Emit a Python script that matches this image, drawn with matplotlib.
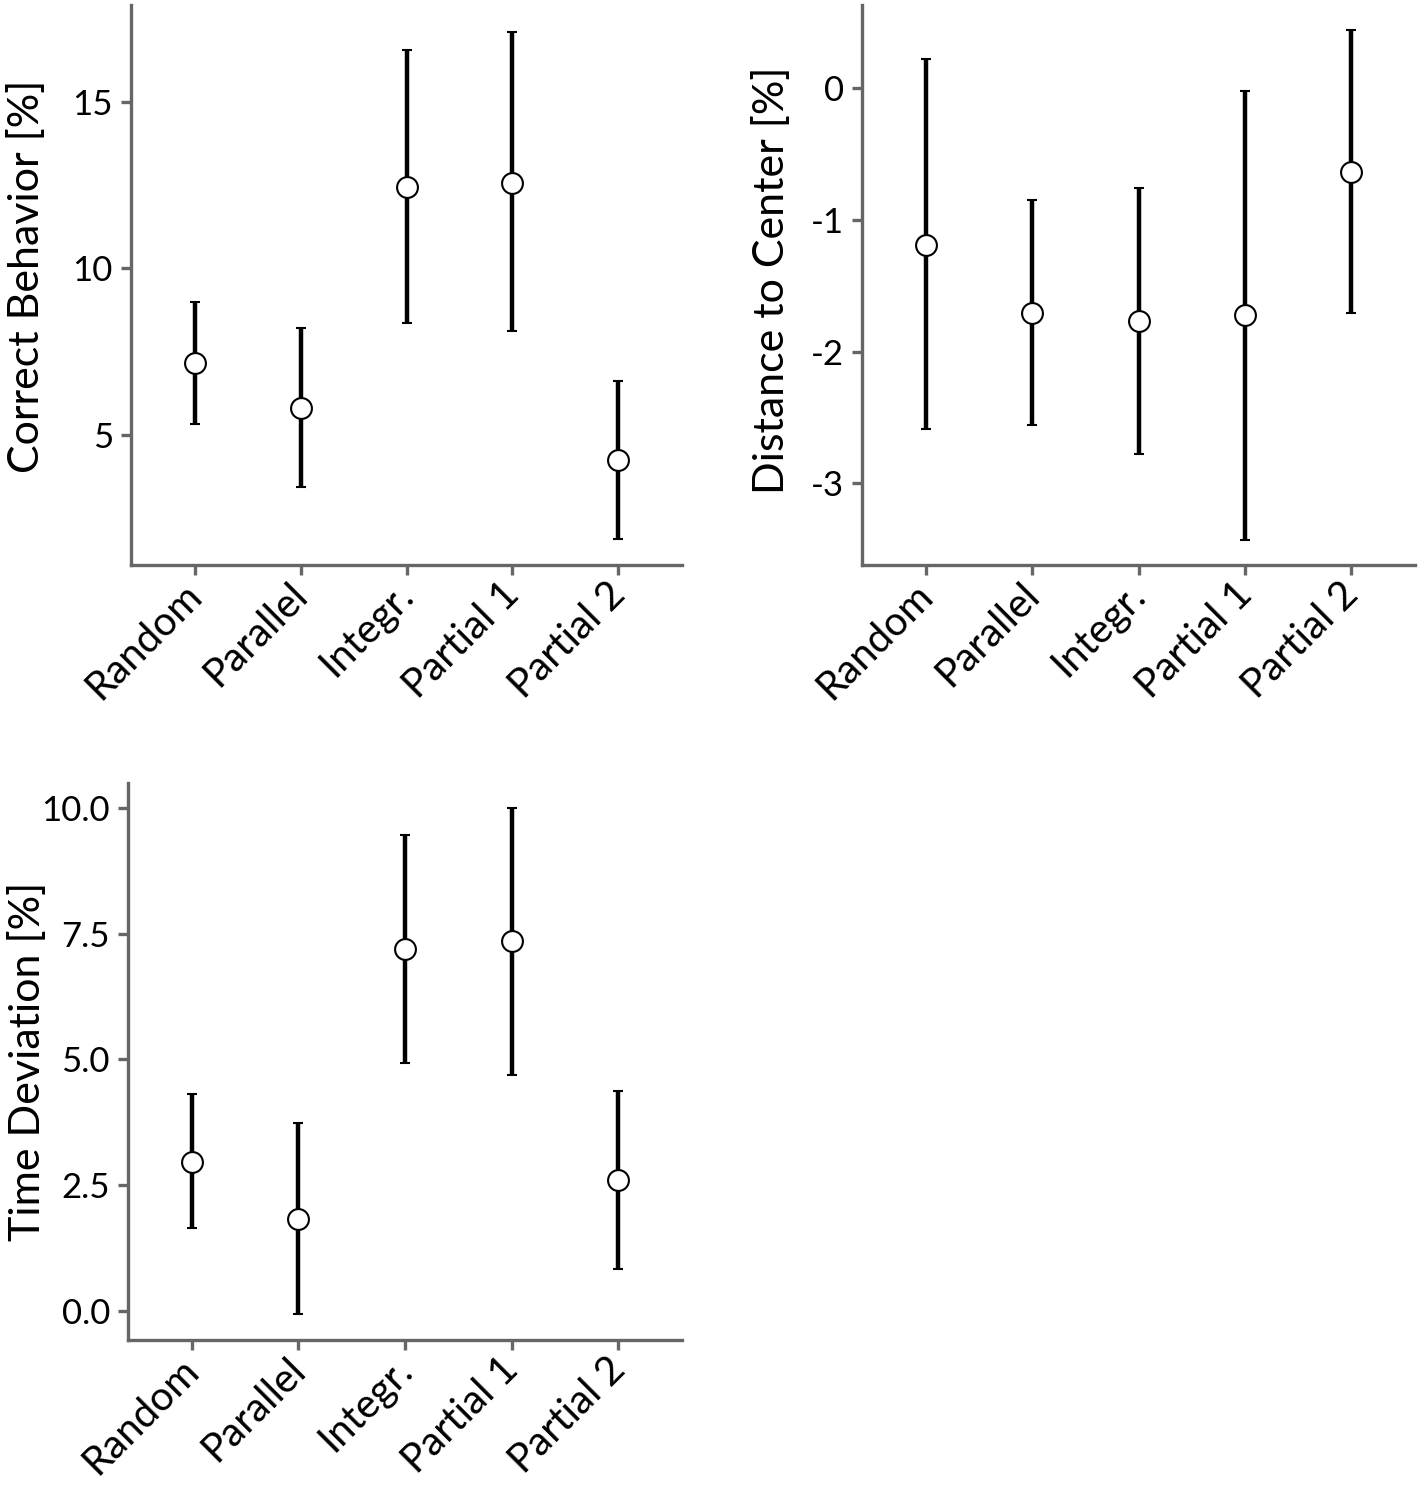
import matplotlib
matplotlib.use("Agg")
import matplotlib.pyplot as plt
import matplotlib.transforms as mtransforms
import numpy as np

plt.rcParams['font.family'] = ['Lato', 'DejaVu Sans']

categories = ["Random", "Parallel", "Integr.", "Partial 1", "Partial 2"]

correct_mean = [7.16, 5.81, 12.43, 12.57, 4.25]
correct_low = [5.33, 3.44, 8.35, 8.11, 1.89]
correct_high = [8.98, 8.20, 16.56, 17.10, 6.62]

dist_mean = [-1.19, -1.71, -1.77, -1.72, -0.64]
dist_low = [-2.59, -2.56, -2.78, -3.43, -1.71]
dist_high = [0.22, -0.85, -0.76, -0.02, 0.44]

time_mean = [2.97, 1.83, 7.20, 7.35, 2.61]
time_low = [1.64, -0.06, 4.93, 4.69, 0.84]
time_high = [4.31, 3.73, 9.47, 10.01, 4.38]

W, H = 1418, 1493
fig = plt.figure(figsize=(W / 100, H / 100), dpi=100)

def px_axes(left, top, right, bottom):
    return fig.add_axes([left / W, 1 - bottom / H, (right - left) / W, (bottom - top) / H])

spine_col = "#666666"

def panel(ax, mean, low, high, ylabel, yticks, yticklabels, ylim, label_xy):
    x = np.arange(len(categories))
    mean = np.array(mean); low = np.array(low); high = np.array(high)
    yerr = np.vstack([mean - low, high - mean])
    ax.errorbar(x, mean, yerr=yerr, fmt='o', color='black', ecolor='black',
                elinewidth=3.2, capsize=3.8, capthick=3.2,
                markerfacecolor='white', markeredgecolor='black',
                markeredgewidth=1.5, markersize=15, zorder=3)
    ax.set_xlim(-0.6, 4.6)
    ax.set_ylim(*ylim)
    for s in ['top', 'right']:
        ax.spines[s].set_visible(False)
    for s in ['left', 'bottom']:
        ax.spines[s].set_color(spine_col)
        ax.spines[s].set_linewidth(2.4)
    ax.tick_params(axis='both', color=spine_col, width=2.4, length=7)
    ax.tick_params(axis='x', pad=8)
    ax.tick_params(axis='y', pad=6)
    ax.set_xticks(x)
    ax.set_xticklabels(categories, rotation=45, ha='right', va='top',
                       rotation_mode='anchor', fontsize=29)
    ax.set_yticks(yticks)
    ax.set_yticklabels(yticklabels, fontsize=25)
    ax.set_ylabel(ylabel, fontsize=31)
    ax.yaxis.set_label_coords(*label_xy)
    offset = mtransforms.ScaledTranslation(-0.12, 0.10, fig.dpi_scale_trans)
    for lab in ax.get_xticklabels():
        lab.set_transform(lab.get_transform() + offset)

ax1 = px_axes(131, 5, 682, 565)
panel(ax1, correct_mean, correct_low, correct_high, "Correct Behavior [%]",
      [5, 10, 15], ["5", "10", "15"], (1.1, 17.9), (-0.155, 0.516))

ax2 = px_axes(862, 5, 1415, 565)
panel(ax2, dist_mean, dist_low, dist_high, "Distance to Center [%]",
      [0, -1, -2, -3], ["0", "-1", "-2", "-3"], (-3.62, 0.63), (-0.128, 0.509))

ax3 = px_axes(128, 783, 682, 1340)
panel(ax3, time_mean, time_low, time_high, "Time Deviation [%]",
      [0, 2.5, 5, 7.5, 10], ["0.0", "2.5", "5.0", "7.5", "10.0"], (-0.58, 10.5), (-0.147, 0.5))

fig.savefig("out.png", dpi=100, facecolor='white')
